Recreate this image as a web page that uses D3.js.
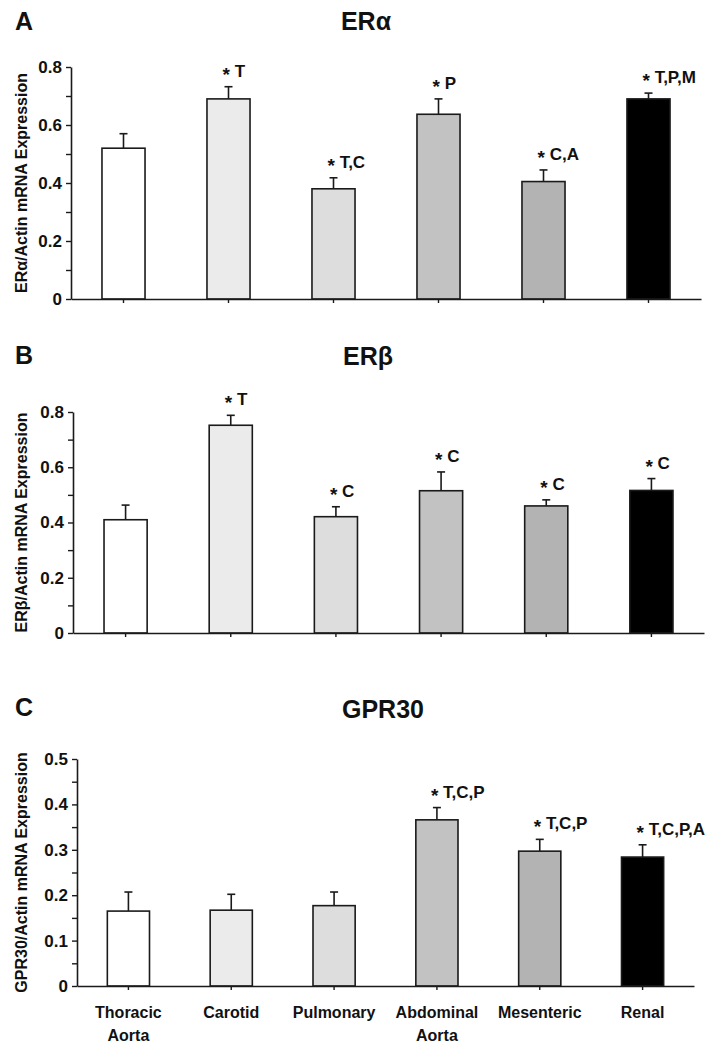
<!DOCTYPE html>
<html>
<head>
<meta charset="utf-8">
<script src="https://cdn.jsdelivr.net/npm/d3@7"></script>
<style>
  html, body { margin: 0; padding: 0; background: #fff; }
  svg { display: block; }
  text { font-family: "Liberation Sans", Arial, sans-serif; font-weight: bold; fill: #111; }
</style>
</head>
<body>
<svg id="chart" width="724" height="1048"></svg>
<script>
// ---- data ----
const categories = ["Thoracic Aorta", "Carotid", "Pulmonary", "Abdominal Aorta", "Mesenteric", "Renal"];
const categoryLabelLines = [["Thoracic", "Aorta"], ["Carotid"], ["Pulmonary"], ["Abdominal", "Aorta"], ["Mesenteric"], ["Renal"]];
const barColors = ["#ffffff", "#ebebeb", "#dddddd", "#c2c2c2", "#b3b3b3", "#000000"];

const erAlphaMean = [0.52, 0.69, 0.38, 0.637, 0.405, 0.69];
const erAlphaErr  = [0.05, 0.042, 0.038, 0.053, 0.04, 0.02];
const erAlphaSig  = ["", "T", "T,C", "P", "C,A", "T,P,M"];

const erBetaMean = [0.41, 0.752, 0.421, 0.515, 0.46, 0.516];
const erBetaErr  = [0.053, 0.036, 0.036, 0.068, 0.022, 0.043];
const erBetaSig  = ["", "T", "C", "C", "C", "C"];

const gpr30Mean = [0.165, 0.167, 0.177, 0.366, 0.297, 0.284];
const gpr30Err  = [0.042, 0.035, 0.03, 0.027, 0.026, 0.027];
const gpr30Sig  = ["", "", "", "T,C,P", "T,C,P", "T,C,P,A"];

const yMajorA = [0, 0.2, 0.4, 0.6, 0.8];
const yMajorC = [0, 0.1, 0.2, 0.3, 0.4, 0.5];

// ---- panels ----
const panels = [
  { letter: "A", title: "ERα", ylabel: "ERα/Actin mRNA Expression", mean: erAlphaMean, err: erAlphaErr, sig: erAlphaSig,
    ticks: yMajorA, ymax: 0.8, left: 71, right: 701, top: 67, bottom: 299, letterY: 30, titleX: 366, titleY: 30, xLabels: false },
  { letter: "B", title: "ERβ", ylabel: "ERβ/Actin mRNA Expression", mean: erBetaMean, err: erBetaErr, sig: erBetaSig,
    ticks: yMajorA, ymax: 0.8, left: 73, right: 704, top: 412, bottom: 633, letterY: 364, titleX: 368, titleY: 365, xLabels: false },
  { letter: "C", title: "GPR30", ylabel: "GPR30/Actin mRNA Expression", mean: gpr30Mean, err: gpr30Err, sig: gpr30Sig,
    ticks: yMajorC, ymax: 0.5, left: 77, right: 694, top: 759, bottom: 986, letterY: 716, titleX: 383, titleY: 718, xLabels: true }
];

const svg = d3.select("#chart");
const strokeCol = "#1a1a1a";

panels.forEach(p => {
  const g = svg.append("g");
  const x = d3.scaleBand().domain(categories).range([p.left, p.right]).paddingInner(0.59).paddingOuter(0.295);
  const y = d3.scaleLinear().domain([0, p.ymax]).range([p.bottom, p.top]);

  // letter + title
  g.append("text").attr("x", 15).attr("y", p.letterY).attr("font-size", 25).text(p.letter);
  g.append("text").attr("x", p.titleX).attr("y", p.titleY).attr("font-size", 25).attr("text-anchor", "middle").text(p.title);

  const data = categories.map((c, i) => ({ c, m: p.mean[i], e: p.err[i], s: p.sig[i], col: barColors[i] }));

  // error bars (upper only)
  data.forEach(d => {
    const cx = x(d.c) + x.bandwidth() / 2;
    g.append("line").attr("x1", cx).attr("x2", cx).attr("y1", y(d.m)).attr("y2", y(d.m + d.e))
      .attr("stroke", strokeCol).attr("stroke-width", 1.6);
    g.append("line").attr("x1", cx - 4).attr("x2", cx + 4).attr("y1", y(d.m + d.e)).attr("y2", y(d.m + d.e))
      .attr("stroke", strokeCol).attr("stroke-width", 1.6);
  });

  // bars
  g.selectAll("rect.bar").data(data).enter().append("rect")
    .attr("class", "bar")
    .attr("x", d => x(d.c))
    .attr("width", x.bandwidth())
    .attr("y", d => y(d.m))
    .attr("height", d => y(0) - y(d.m))
    .attr("fill", d => d.col)
    .attr("stroke", strokeCol).attr("stroke-width", 1.6);

  // significance labels
  const sig = g.selectAll("text.sig").data(data.filter(d => d.s)).enter().append("text")
    .attr("class", "sig")
    .attr("x", d => x(d.c) + x.bandwidth() / 2 - 6)
    .attr("y", d => y(d.m + d.e) - 10)
    .attr("font-size", 17);
  sig.append("tspan").attr("font-size", 19).attr("dy", 4).text("*");
  sig.append("tspan").attr("dy", -4).text(d => "\u00a0" + d.s);

  // y axis
  const minor = [];
  for (let i = 0; i < p.ticks.length - 1; i++) minor.push((p.ticks[i] + p.ticks[i + 1]) / 2);
  const yAxis = d3.axisLeft(y).tickValues(p.ticks).tickSize(5).tickSizeOuter(0).tickPadding(4)
    .tickFormat(d => d === 0 ? "0" : d3.format(".1f")(d));
  const ya = g.append("g").attr("transform", `translate(${p.left},0)`).call(yAxis);
  ya.select(".domain").attr("stroke", strokeCol).attr("stroke-width", 1.6);
  ya.selectAll(".tick line").attr("stroke", strokeCol).attr("stroke-width", 1.4);
  ya.selectAll(".tick text").attr("font-size", 17).attr("font-family", "Liberation Sans, Arial, sans-serif")
    .attr("font-weight", "bold").attr("fill", "#111");
  const yMinor = d3.axisLeft(y).tickValues(minor).tickSize(5).tickFormat("");
  const ym = g.append("g").attr("transform", `translate(${p.left},0)`).call(yMinor);
  ym.select(".domain").remove();
  ym.selectAll(".tick line").attr("stroke", strokeCol).attr("stroke-width", 1.4);

  // x axis
  const xAxis = d3.axisBottom(x).tickSize(4).tickSizeOuter(0).tickFormat("");
  const xa = g.append("g").attr("transform", `translate(0,${p.bottom})`).call(xAxis);
  xa.select(".domain").attr("stroke", strokeCol).attr("stroke-width", 1.6);
  xa.selectAll(".tick line").attr("stroke", strokeCol).attr("stroke-width", 1.4);

  // y label
  g.append("text")
    .attr("transform", `translate(27,${(p.top + p.bottom) / 2}) rotate(-90)`)
    .attr("text-anchor", "middle").attr("font-size", 16)
    .text(p.ylabel);

  if (p.xLabels) {
    categories.forEach((c, i) => {
      const cx = x(c) + x.bandwidth() / 2;
      const t = g.append("text").attr("x", cx).attr("y", p.bottom + 32).attr("text-anchor", "middle").attr("font-size", 16);
      categoryLabelLines[i].forEach((line, j) => {
        t.append("tspan").attr("x", cx).attr("dy", j === 0 ? 0 : 23).text(line);
      });
    });
  }
});
</script>
</body>
</html>
